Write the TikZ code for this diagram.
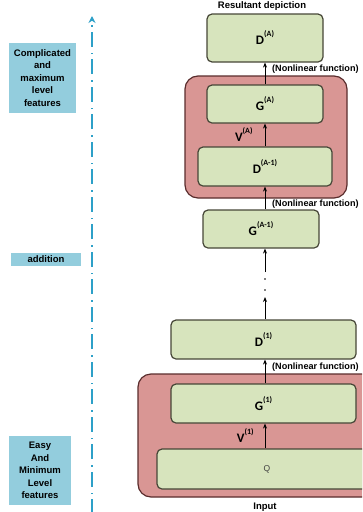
\documentclass[tikz,border=0pt]{standalone}
\usepackage{fontspec}
\setmainfont{Liberation Sans}
\newfontfamily\calfont{Carlito}
\usetikzlibrary{arrows.meta}
\definecolor{boxgreen}{RGB}{215,228,189}
\definecolor{boxline}{RGB}{70,70,55}
\definecolor{blockred}{RGB}{217,150,148}
\definecolor{blockline}{RGB}{90,45,45}
\definecolor{notecyan}{RGB}{147,205,221}
\definecolor{axiscyan}{RGB}{45,160,200}
\newcommand{\supl}[2]{{\calfont\fontsize{13}{13}\selectfont #1}\raisebox{8pt}{\calfont\fontsize{8}{8}\selectfont #2}}
\begin{document}
\begin{tikzpicture}[x=1pt,y=-1pt,
  every node/.style={inner sep=0pt, font=\bfseries\fontsize{9.5}{12.5}\selectfont},
  layer/.style={draw=boxline, fill=boxgreen, rounded corners=5pt, line width=1.2pt},
  block/.style={draw=blockline, fill=blockred, rounded corners=13pt, line width=1.2pt},
  note/.style={fill=notecyan, align=center},
  nonlin/.style={anchor=west, font=\bfseries\fontsize{9.1}{11}\selectfont},
  arr/.style={-{Stealth[length=5pt,width=4pt]}, line width=0.9pt},
  axis/.style={draw=axiscyan, line width=2pt, dash pattern=on 15pt off 5pt on 1.5pt off 6pt, -{Stealth[length=7pt,width=7pt]}}]
\useasboundingbox (0,0) rectangle (362,512);
\clip (0,0) rectangle (362,512);
\node [block, minimum width=162pt, minimum height=122pt] (blockA) at (266,137) {};
\node [block, minimum width=240pt, minimum height=123pt] (block1) at (258,435.5) {};
\node [layer, minimum width=116pt, minimum height=48pt] (DA) at (265,38) {\supl{D}{(A)}};
\node [layer, minimum width=116pt, minimum height=38pt] (GA) at (265,104) {\supl{G}{(A)}};
\node [layer, minimum width=134pt, minimum height=39pt] (DAm) at (265,166.5) {\supl{D}{(A-1)}};
\node [layer, minimum width=116pt, minimum height=38pt] (GAm) at (261,229) {\supl{G}{(A-1)}};
\node [layer, minimum width=185pt, minimum height=39pt] (D1) at (263.5,339.5) {\supl{D}{(1)}};
\node [layer, minimum width=185pt, minimum height=39pt] (G1) at (263.5,403.5) {\supl{G}{(1)}};
\node [layer, minimum width=220pt, minimum height=40pt] (Q) at (267,469) {\mdseries\fontsize{8.5}{9}\selectfont\color{black!75}Q};
\node (result) at (262,6) {Resultant depiction};
\node (input) at (265,507) {Input};
\node [nonlin] (nlA) at (272,69) {(Nonlinear function)};
\node [nonlin] (nlAm) at (272,204) {(Nonlinear function)};
\node [nonlin] (nl1) at (272,367) {(Nonlinear function)};
\coordinate (gapup) at (265,272);
\coordinate (gapdown) at (265,297);
\draw [arr] (GA) -- (DA);
\draw [arr] (DAm) -- (GA) node [midway, left=12pt] {\supl{V}{(A)}};
\draw [arr] (DAm.south |- GAm.north) -- (DAm.south);
\draw [arr] (gapup) -- (GAm.south -| gapup);
\fill (265,279) circle (0.8);
\fill (265,290) circle (0.8);
\draw [arr] (D1.north -| gapdown) -- (gapdown);
\draw [arr] (G1.north -| gapup) -- (D1.south -| gapup);
\draw [arr] (Q.north -| gapup) -- (G1.south -| gapup) node [midway, left=11pt] {\supl{V}{(1)}};
\node [note, minimum width=67pt, minimum height=70pt] (hard) at (42.5,78) {Complicated\\and\\maximum\\level\\features};
\node [note, minimum width=70pt, minimum height=13pt] (mid) at (46,259.5) {addition};
\node [note, minimum width=62pt, minimum height=69pt] (easy) at (40,470.5) {Easy\\And\\Minimum\\Level\\features};
\coordinate (axisbot) at (92,514);
\coordinate (axistop) at (92,16);
\draw [axis] (axisbot) -- (axistop);
\end{tikzpicture}
\end{document}
